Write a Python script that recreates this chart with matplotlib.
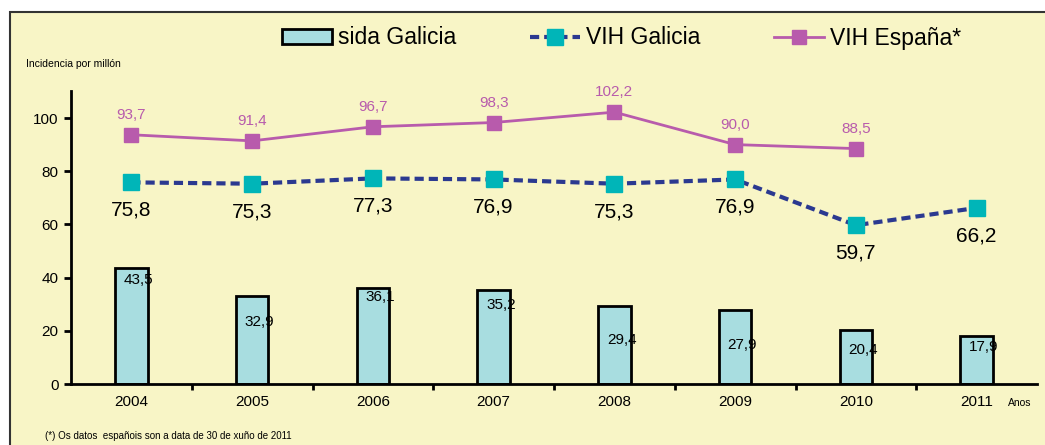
import numpy as np
import matplotlib.pyplot as plt
from matplotlib.patches import Rectangle

plt.rcParams['font.family'] = ['Liberation Sans', 'DejaVu Sans']

years = ['2004', '2005', '2006', '2007', '2008', '2009', '2010', '2011']
sida_galicia = [43.5, 32.9, 36.1, 35.2, 29.4, 27.9, 20.4, 17.9]
vih_galicia = [75.8, 75.3, 77.3, 76.9, 75.3, 76.9, 59.7, 66.2]
vih_espana = [93.7, 91.4, 96.7, 98.3, 102.2, 90.0, 88.5, np.nan]

# where the bar value labels sit inside each bar (as in the original)
bar_label_y = [39.1, 23.3, 32.7, 29.7, 16.5, 14.7, 12.8, 13.9]

def fmt(v):
    return f"{v:.1f}".replace('.', ',')

bg = '#F8F5C6'
bar_col = '#A8DDE0'
blue = '#2B3990'
cyan = '#00B5B8'
magenta = '#B85BAC'

fig = plt.figure(figsize=(10.45, 4.45), dpi=100)
fig.patch.set_facecolor('white')
fig.patches.append(Rectangle((10 / 1045, -0.2), 1.2, 0.2 + (445 - 12) / 445,
                             transform=fig.transFigure, facecolor=bg,
                             edgecolor='#333333', lw=1.5, zorder=-10))

ax = fig.add_axes([71 / 1045, 1 - 384 / 445, (1037 - 71) / 1045, (384 - 91.4) / 445])
ax.set_facecolor('none')

x = np.arange(len(years))
h_bar = ax.bar(x, sida_galicia, width=0.27, color=bar_col, edgecolor='black', lw=2,
               label='sida Galicia', zorder=2)
for xi, v, ly in zip(x, sida_galicia, bar_label_y):
    ax.text(xi + 0.06, ly, fmt(v), ha='center', va='center', fontsize=11, zorder=3)

h_gal, = ax.plot(x, vih_galicia, ls=(0, (2.2, 1.2)), color=blue, lw=3, marker='s', ms=12,
                 mfc=cyan, mec=cyan, label='VIH Galicia', zorder=4)
for xi, v in zip(x, vih_galicia):
    ax.text(xi, v - 10.5, fmt(v), ha='center', va='center', fontsize=15, zorder=5)

h_esp, = ax.plot(x, vih_espana, color=magenta, lw=2, marker='s', ms=9.5, mfc=magenta,
                 mec=magenta, label='VIH España*', zorder=4)
for xi, v in zip(x, vih_espana):
    if not np.isnan(v):
        ax.text(xi, v + 7.5, fmt(v), ha='center', va='center', fontsize=11,
                color=magenta, zorder=5)

ax.set_xlim(-0.5, 7.5)
ax.set_ylim(0, 110)
ax.set_yticks([0, 20, 40, 60, 80, 100])
ax.tick_params(axis='y', length=5, width=2, labelsize=11, pad=4)
ax.set_xticks(x)
ax.set_xticklabels(years, fontsize=11)
ax.tick_params(axis='x', length=0, pad=8)
ax.set_xticks(np.arange(0.5, 7.5, 1), minor=True)
ax.tick_params(axis='x', which='minor', length=4, width=2, direction='out')
for s in ['top', 'right']:
    ax.spines[s].set_visible(False)
for s in ['left', 'bottom']:
    ax.spines[s].set_linewidth(2)

fig.text(26 / 1045, 1 - 64 / 445, 'Incidencia por millón', fontsize=7.5, va='center')
fig.text(1020 / 1045, 1 - 403 / 445, 'Anos', fontsize=7.5, ha='center', va='center')
fig.text(45 / 1045, 1 - 436 / 445, "(*) Os datos  españois son a data de 30 de xuño de 2011",
         fontsize=7, va='center')

fig.legend([h_bar, h_gal, h_esp], ['sida Galicia', 'VIH Galicia', 'VIH España*'],
           loc='center left', bbox_to_anchor=(282 / 1045, 1 - 38 / 445), ncol=3,
           frameon=False, fontsize=16.5, handlelength=2.2, handleheight=0.6,
           columnspacing=3.2, handletextpad=0.26, borderpad=0, borderaxespad=0)

fig.savefig('out.png', dpi=100, facecolor='white')
